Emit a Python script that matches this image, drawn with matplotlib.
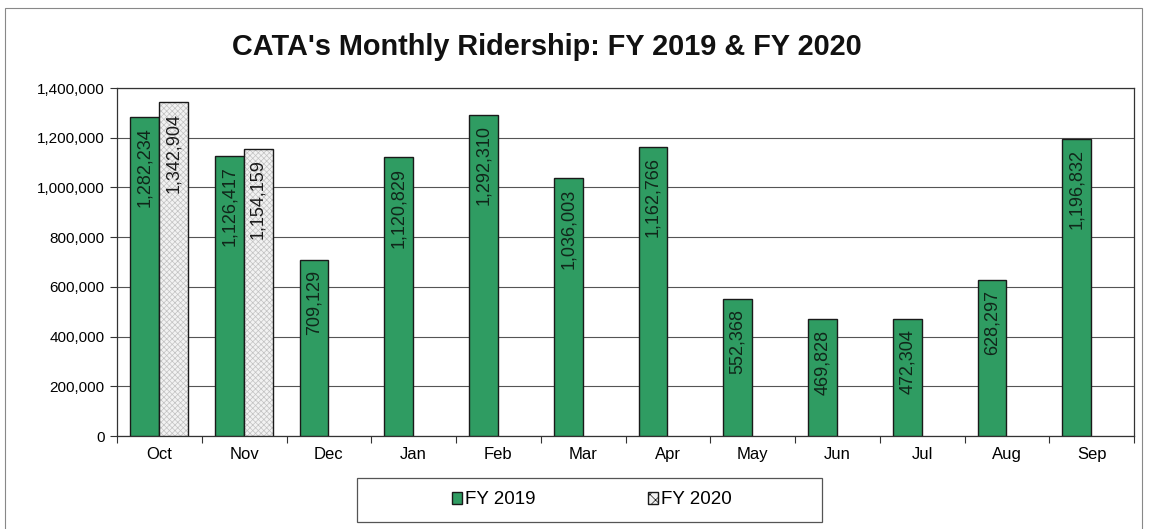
import numpy as np
import matplotlib

matplotlib.use("Agg")
import matplotlib.pyplot as plt
from matplotlib.patches import Rectangle
from matplotlib.ticker import FuncFormatter, FixedLocator

months = ["Oct", "Nov", "Dec", "Jan", "Feb", "Mar", "Apr", "May", "Jun", "Jul", "Aug", "Sep"]
fy2019 = [1282234, 1126417, 709129, 1120829, 1292310, 1036003, 1162766,
          552368, 469828, 472304, 628297, 1196832]
fy2020 = [1342904, 1154159]

plt.rcParams["font.family"] = ["Liberation Sans", "DejaVu Sans"]
plt.rcParams["hatch.linewidth"] = 0.5

W, H = 1149, 529
fig = plt.figure(figsize=(W / 100, H / 100), dpi=100)
ax = fig.add_axes([117 / W, 1 - 436 / H, 1017 / W, 348 / H])

x = np.arange(len(months))
w = 0.34
green = "#2f9c62"

b1 = ax.bar(x - w / 2 - 0.005, fy2019, w, color=green, edgecolor="#1a1a1a",
            linewidth=1.0, label="FY 2019", zorder=3)
x20 = x[:len(fy2020)] + w / 2 - 0.005
# hatch fill in light gray, outline drawn separately
b2 = ax.bar(x20, fy2020, w, color="#f2f2f2", edgecolor="#c2c2c2",
            linewidth=0, hatch="xxxxxx", label="FY 2020", zorder=3)
ax.bar(x20, fy2020, w, fill=False, edgecolor="#1a1a1a", linewidth=1.0, zorder=3.5)

for xi, v in zip(x - w / 2 - 0.005, fy2019):
    ax.text(xi, v - 42000, f"{v:,}", rotation=90, ha="center", va="top",
            fontsize=13, color="#10261a", zorder=4)
for xi, v in zip(x20, fy2020):
    ax.text(xi, v - 42000, f"{v:,}", rotation=90, ha="center", va="top",
            fontsize=13, color="#1a1a1a", zorder=4)

ax.set_xlim(-0.5, len(months) - 0.5)
ax.set_ylim(0, 1400000)
ax.set_yticks(np.arange(0, 1400001, 200000))
ax.yaxis.set_major_formatter(FuncFormatter(lambda v, p: f"{int(v):,}"))
ax.yaxis.grid(True, color="#555555", linewidth=0.8, zorder=0)
ax.set_axisbelow(True)

ax.set_xticks(x)
ax.set_xticklabels(months, fontsize=12)
ax.tick_params(axis="x", which="major", length=0, pad=8)
ax.xaxis.set_minor_locator(FixedLocator(np.arange(-0.5, len(months), 1.0)))
ax.tick_params(axis="x", which="minor", length=5, width=0.8, color="#333333")
ax.tick_params(axis="y", length=5, width=0.8, color="#333333", labelsize=11, pad=4)

for s in ax.spines.values():
    s.set_color("#333333")
    s.set_linewidth(0.9)

fig.text(547 / W, 1 - 47 / H, "CATA's Monthly Ridership: FY 2019 & FY 2020",
         ha="center", va="center", fontsize=20.8, fontweight="bold", color="#111111")

# legend box
fig.patches.append(Rectangle((357 / W, 1 - 522 / H), 465 / W, 44 / H,
                             transform=fig.transFigure, fill=False,
                             edgecolor="#555555", linewidth=0.9))
h2 = Rectangle((0, 0), 1, 1, facecolor="#f2f2f2", edgecolor="#1a1a1a",
               linewidth=1.0, hatch="xxx")
fig.legend(handles=[b1, h2], labels=["FY 2019", "FY 2020"], loc="center",
           bbox_to_anchor=(592 / W, 1 - 500 / H), ncol=2, fontsize=13.5,
           frameon=False, handlelength=0.55, handleheight=0.55,
           handletextpad=0.15, columnspacing=6.0)

# outer frame
fig.patches.append(Rectangle((5 / W, -0.01), 1137 / W, 1 - 8 / H + 0.01,
                             transform=fig.transFigure, fill=False,
                             edgecolor="#888888", linewidth=0.8))

fig.savefig("out.png", dpi=100)
